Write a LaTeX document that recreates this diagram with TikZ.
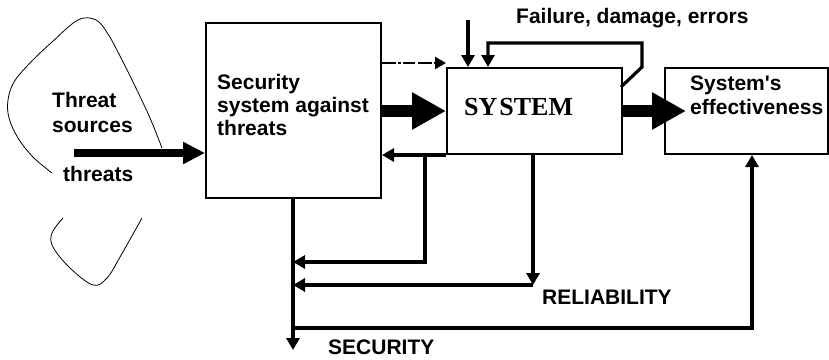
\documentclass[tikz,border=0pt]{standalone}
\usepackage{fontspec}
\setmainfont{Liberation Sans}
\newfontfamily\serifb{Liberation Serif}
\usetikzlibrary{arrows.meta}
\tikzset{
  block/.style={draw, line width=2pt, anchor=north west, inner sep=0pt},
  lbl/.style={anchor=west, inner sep=0pt, align=left, font=\bfseries\fontsize{21}{24}\selectfont},
  flow/.style={line width=3.2pt, -{Triangle[length=12pt,width=13pt]}},
  fat/.style={line width=12pt, -{Triangle[length=34pt,width=35pt]}},
  sketch/.style={line width=0.8pt}
}
\begin{document}
\begin{tikzpicture}[x=1pt,y=-1pt]
\useasboundingbox (0,0) rectangle (829,359);

\node[block, minimum width=175pt, minimum height=175pt] (sec) at (205,22) {};
\node[block, minimum width=175pt, minimum height=86pt] (sys) at (446,67) {};
\node[block, minimum width=163pt, minimum height=86pt] (eff) at (664,67) {};

\node[lbl, font=\bfseries\fontsize{21}{23}\selectfont] (sectxt) at (217,105) {Security\\system against\\threats};
\node[anchor=west, inner sep=0pt, font=\serifb\bfseries\fontsize{26}{28}\selectfont] (systxt) at (464,107) {SY\kern2pt STEM};
\node[lbl] (efftxt) at (690,95) {System\textquotesingle s\\effectiveness};
\node[lbl, font=\bfseries\fontsize{21}{25}\selectfont] (src) at (52,112) {Threat\\sources};
\node[lbl] (thr) at (63,174) {threats};
\node[lbl] (fail) at (516,18) {Failure, damage, errors};
\node[lbl] (rel) at (542,297) {RELIABILITY};
\node[lbl] (secu) at (328,347) {SECURITY};

\draw[sketch] plot[smooth, tension=0.6] coordinates {(52,173) (33,157) (18,138) (9,118) (8,100) (14,82) (30,63) (52,42) (78,20) (96,20) (108,34) (121,58) (134,84) (150,118) (162,148)};
\draw[sketch] plot[smooth, tension=0.6] coordinates {(63,218) (52,233) (53,247) (70,268) (93,285) (107,278) (120,257) (142,218)};

\coordinate (tstart) at (74,153);
\draw[line width=8pt, -{Triangle[length=22pt,width=21pt]}] (tstart) -- (tstart -| sec.west);
\draw[fat] (sys.west -| sec.east) -- (sys.west);
\draw[fat] (sys.east) -- ([xshift=22pt]eff.west);
\draw[line width=2.5pt, dash pattern=on 14pt off 2pt on 3pt off 2pt on 12pt off 3pt, -{Triangle[length=11pt,width=12pt]}]
  ([yshift=4pt]sys.north west -| sec.east) -- ([yshift=4pt]sys.north west);
\draw[flow] (sys.south west) -- (sys.south west -| sec.east);

\coordinate (br1) at (425,153);
\coordinate (dn1) at (425,262);
\coordinate (sd) at (293,197);
\draw[flow] (br1) -- (dn1) -- (dn1 -| sd);

\coordinate (br2) at (533,153);
\coordinate (dn2) at (533,285);
\draw[flow] (br2) -- (dn2);
\draw[flow] (dn2) -- (dn2 -| sd);

\coordinate (sbot) at (293,350);
\draw[flow] (sd) -- (sbot);
\coordinate (sc1) at (293,328);
\coordinate (sc2) at (752,328);
\draw[flow] (sc1) -- (sc2) -- (sc2 |- eff.south);

\coordinate (ftop) at (468,20);
\draw[flow] (ftop) -- (ftop |- sys.north);
\coordinate (lp1) at (621,87);
\coordinate (lp2) at (642,67);
\coordinate (lp3) at (642,43);
\coordinate (lp4) at (488,43);
\draw[flow] (lp1) -- (lp2) -- (lp3) -- (lp4) -- (lp4 |- sys.north);
\end{tikzpicture}
\end{document}
